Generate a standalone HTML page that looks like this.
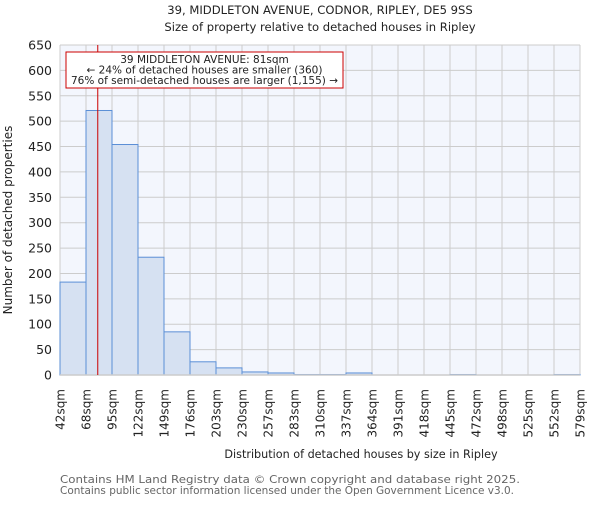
<!DOCTYPE html>
<html><head><meta charset="utf-8"><style>
body{margin:0;background:#fff}
svg text{font-family:"DejaVu Sans","Liberation Sans",sans-serif;fill:#222}
</style></head><body>
<svg id="chart" width="600" height="500" xmlns="http://www.w3.org/2000/svg">
<text x="320" y="14" font-size="11.6" text-anchor="middle">39, MIDDLETON AVENUE, CODNOR, RIPLEY, DE5 9SS</text>
<text x="320" y="31" font-size="11.6" text-anchor="middle">Size of property relative to detached houses in Ripley</text>
<rect x="60" y="45" width="520" height="330" fill="#f3f6fd"/>
<g id="grid"></g><g id="bars"></g><g id="axes"></g>
<text transform="translate(12,220) rotate(-90)" font-size="12" text-anchor="middle">Number of detached properties</text>
<text x="361" y="458" font-size="11.2" text-anchor="middle">Distribution of detached houses by size in Ripley</text>
<text x="60" y="483" font-size="10.5" textLength="460" lengthAdjust="spacingAndGlyphs" style="fill:#666">Contains HM Land Registry data © Crown copyright and database right 2025.</text>
<text x="60" y="494" font-size="10.5" textLength="454" lengthAdjust="spacingAndGlyphs" style="fill:#666">Contains public sector information licensed under the Open Government Licence v3.0.</text>
</svg>
<script>
const binLabels=["42sqm","68sqm","95sqm","122sqm","149sqm","176sqm","203sqm","230sqm","257sqm","283sqm","310sqm","337sqm","364sqm","391sqm","418sqm","445sqm","472sqm","498sqm","525sqm","552sqm","579sqm"];
const binEdges=[42,68.85,95.7,122.55,149.4,176.25,203.1,229.95,256.8,283.65,310.5,337.35,364.2,391.05,417.9,444.75,471.6,498.45,525.3,552.15,579];
const counts=[183,521,454,232,85,26,14,6,4,1,1,4,0,0,0,1,0,0,0,1];
const yTicks=[0,50,100,150,200,250,300,350,400,450,500,550,600,650];
const propertySize=81;
const NS="http://www.w3.org/2000/svg";
const L=60,R=580,T=45,B=375;
const x=v=>L+(v-42)/(579-42)*(R-L);
const y=v=>B-v/650*(B-T);
function mk(t,a,p){const e=document.createElementNS(NS,t);for(const k in a)e.setAttribute(k,a[k]);p.appendChild(e);return e;}
const g=document.getElementById('grid'),bg=document.getElementById('bars'),ax=document.getElementById('axes');
yTicks.forEach(v=>{
 const l=mk('line',{x1:L,x2:R,y1:y(v),y2:y(v),stroke:'#cccccc','stroke-width':1},g);
 
 
 const t=mk('text',{x:L-8,y:y(v)+4.5,'font-size':12.5,'text-anchor':'end'},ax);
 
 
 t.textContent=v;
});
binEdges.forEach((v,i)=>{
 const l=mk('line',{x1:x(v),x2:x(v),y1:T,y2:B,stroke:'#cccccc','stroke-width':1},g);
 
 
 const t=mk('text',{transform:`translate(${x(v)+4.5},389) rotate(-90)`,'font-size':12,'text-anchor':'end'},ax);
 
 
 t.textContent=binLabels[i];
});
counts.forEach((c,i)=>{
 const r=mk('rect',{x:x(binEdges[i]),y:y(c),width:x(binEdges[i+1])-x(binEdges[i]),height:B-y(c),fill:'#d6e1f2',stroke:'#5b8fd6','stroke-width':1},bg);
 
 
});
const sp=mk('line',{x1:L,x2:R,y1:B,y2:B,stroke:'#cccccc','stroke-width':1.5},ax);


const ml=mk('line',{x1:x(propertySize),x2:x(propertySize),y1:T,y2:B,stroke:'#cc0000','stroke-width':1},ax);


const box=mk('rect',{x:66,y:52,width:277,height:36,fill:'#fff',stroke:'#cc0000','stroke-width':1},ax);


["39 MIDDLETON AVENUE: 81sqm","← 24% of detached houses are smaller (360)","76% of semi-detached houses are larger (1,155) →"].forEach((s,i)=>{
 const t=mk('text',{x:204.5,y:63+i*10.5,'font-size':10.5,'text-anchor':'middle'},ax);
 
 
 t.textContent=s;
});
</script>
</body></html>
